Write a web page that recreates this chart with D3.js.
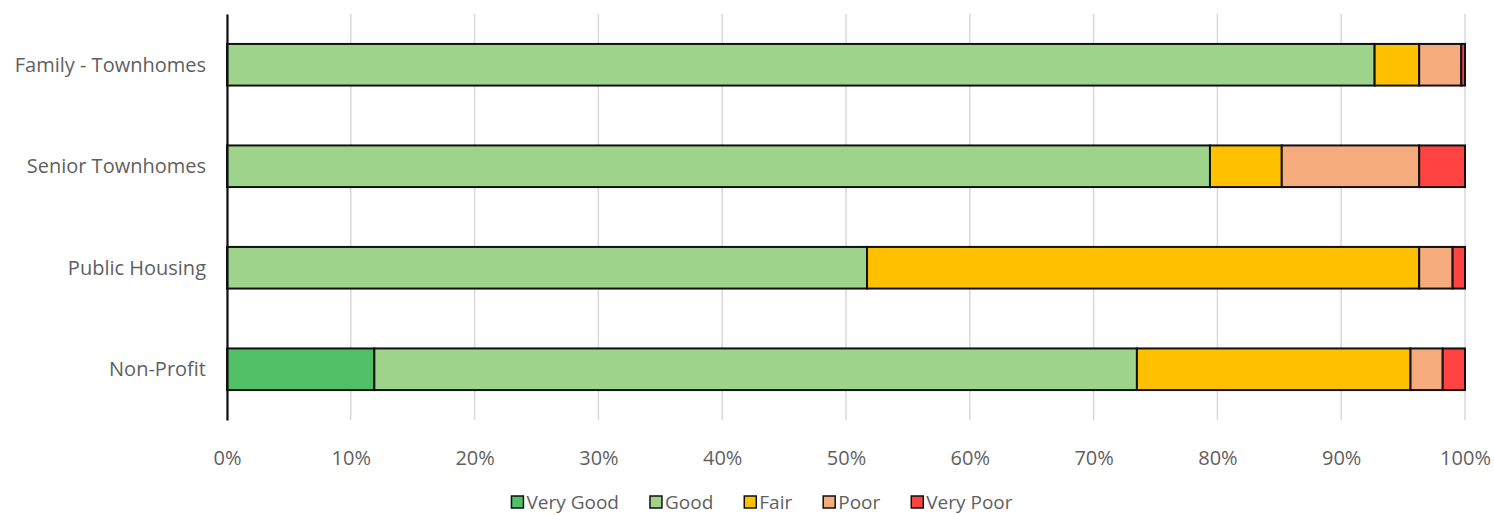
<!DOCTYPE html>
<html>
<head>
<meta charset="utf-8">
<script src="https://cdn.jsdelivr.net/npm/d3@7"></script>
<style>
  html, body { margin: 0; padding: 0; background: #fff; }
  svg { display: block; }
  text { font-family: "Open Sans", "Noto Sans", sans-serif; fill: #5f5f5f; }
</style>
</head>
<body>
<svg id="chart" width="1494" height="515"></svg>
<script>
// Condition shares (%) per housing type
const categories = ["Family - Townhomes", "Senior Townhomes", "Public Housing", "Non-Profit"];
const seriesNames = ["Very Good", "Good", "Fair", "Poor", "Very Poor"];
const veryGood = [0, 0, 0, 11.9];
const good     = [92.7, 79.4, 51.7, 61.6];
const fair     = [3.6, 5.8, 44.6, 22.1];
const poor     = [3.4, 11.1, 2.7, 2.6];
const veryPoor = [0.3, 3.7, 1.0, 1.8];
const tickValues = [0, 10, 20, 30, 40, 50, 60, 70, 80, 90, 100];
const colors = ["#50bf65", "#9ed38b", "#ffc000", "#f5ab7c", "#ff4343"];

const svg = d3.select("#chart");
const margin = { left: 227, right: 29, top: 14, bottom: 95 };
const W = 1494, H = 515;

const x = d3.scaleLinear().domain([0, 100]).range([margin.left, W - margin.right]);
const y = d3.scaleBand().domain(categories).range([margin.top, H - margin.bottom]).paddingInner(0.59).paddingOuter(0.295);

const rows = categories.map((c, i) => ({
  cat: c,
  "Very Good": veryGood[i], "Good": good[i], "Fair": fair[i], "Poor": poor[i], "Very Poor": veryPoor[i]
}));
const stacked = d3.stack().keys(seriesNames)(rows);

// gridlines
svg.append("g")
  .selectAll("line")
  .data(tickValues)
  .join("line")
  .attr("x1", d => x(d)).attr("x2", d => x(d))
  .attr("y1", margin.top).attr("y2", H - margin.bottom)
  .attr("stroke", "#d9d9d9").attr("stroke-width", 1.5);

// x tick labels
const xAxis = d3.axisBottom(x).tickValues(tickValues).tickFormat(d => d + "%").tickSize(0).tickPadding(0);
const gx = svg.append("g").attr("transform", `translate(0, ${H - margin.bottom + 26})`).call(xAxis);
gx.select(".domain").remove();
gx.selectAll("text").attr("font-size", 20).attr("dy", "0.35em").attr("y", 12)
  .style("font-family", "\"Open Sans\", sans-serif").attr("fill", "#5f5f5f");

// bars
svg.append("g")
  .selectAll("g")
  .data(stacked)
  .join("g")
  .attr("fill", (d, i) => colors[i])
  .selectAll("rect")
  .data(d => d.filter(s => s[1] - s[0] > 0))
  .join("rect")
  .attr("x", d => x(d[0]))
  .attr("width", d => x(d[1]) - x(d[0]))
  .attr("y", d => y(d.data.cat))
  .attr("height", y.bandwidth())
  .attr("stroke", "#111").attr("stroke-width", 2);

// y axis
const yAxis = d3.axisLeft(y).tickSize(0).tickPadding(21);
const gy = svg.append("g").attr("transform", `translate(${margin.left}, 0)`).call(yAxis);
gy.select(".domain").attr("stroke", "#111").attr("stroke-width", 2.2);
gy.selectAll("text").attr("font-size", 20).attr("dy", "0.35em")
  .style("font-family", "\"Open Sans\", sans-serif").attr("fill", "#5f5f5f");

// legend, laid out from measured text widths and centred under the plot
const lg = svg.append("g").attr("transform", `translate(0, 502)`);
const items = lg.selectAll("g").data(seriesNames).join("g");
items.append("rect").attr("x", 0).attr("y", -6).attr("width", 12).attr("height", 12)
  .attr("fill", (d, i) => colors[i]).attr("stroke", "#111").attr("stroke-width", 1.5);
items.append("text").attr("x", 15).attr("y", 0).attr("dy", "0.35em")
  .attr("font-size", 19).text(d => d);
const gap = 31;
const widths = [];
items.each(function () { widths.push(15 + d3.select(this).select("text").node().getComputedTextLength()); });
const total = d3.sum(widths) + gap * (widths.length - 1);
let cx = 762 - total / 2;
items.attr("transform", (d, i) => {
  const t = `translate(${cx}, 0)`;
  cx += widths[i] + gap;
  return t;
});
</script>
</body>
</html>
